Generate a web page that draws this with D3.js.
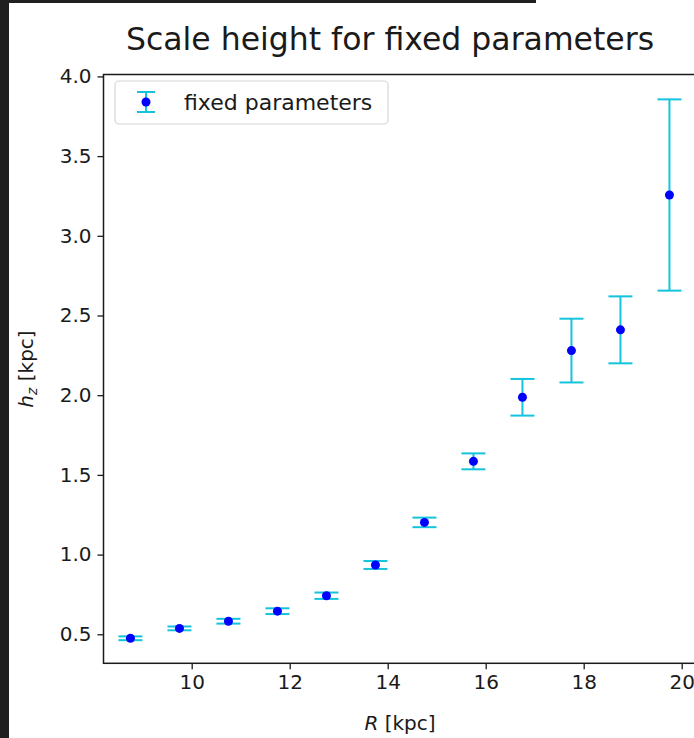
<!DOCTYPE html>
<html>
<head>
<meta charset="utf-8">
<script src="https://cdn.jsdelivr.net/npm/d3@7"></script>
<style>
  html, body { margin: 0; padding: 0; background: #ffffff; overflow: hidden; }
  svg { display: block; }
  text { font-family: "DejaVu Sans", sans-serif; fill: #1a1a1a; }
</style>
</head>
<body>
<svg id="chart" width="694" height="738"></svg>
<script>
// ---- data ----
const radii = [8.75, 9.75, 10.75, 11.75, 12.75, 13.75, 14.75, 15.75, 16.75, 17.75, 18.75, 19.75];
const scaleHeights = [0.475, 0.537, 0.582, 0.645, 0.742, 0.935, 1.202, 1.585, 1.987, 2.28, 2.41, 3.256];
const scaleHeightErrors = [0.012, 0.012, 0.015, 0.018, 0.02, 0.025, 0.03, 0.05, 0.115, 0.2, 0.21, 0.6];
const xTicks = [10, 12, 14, 16, 18, 20];
const yTicks = [0.5, 1.0, 1.5, 2.0, 2.5, 3.0, 3.5, 4.0];
const seriesName = "fixed parameters";
const titleText = "Scale height for fixed parameters";

const svg = d3.select("#chart");
const W = 694, H = 738;

// dark screenshot border
svg.append("rect").attr("x", 0).attr("y", 0).attr("width", W).attr("height", H).attr("fill", "#ffffff");
svg.append("rect").attr("x", 0).attr("y", 0).attr("width", 9).attr("height", H).attr("fill", "#1f1f1f");
svg.append("rect").attr("x", 0).attr("y", 0).attr("width", 536).attr("height", 3).attr("fill", "#1f1f1f");

const plot = { left: 103.5, right: 696.4, top: 74.5, bottom: 663.3 };

const x = d3.scaleLinear().domain([8.2, 20.3]).range([plot.left, plot.right]);
const y = d3.scaleLinear().domain([0.318, 4.012]).range([plot.bottom, plot.top]);

const cyan = "#14c3dc";
const blue = "#0000ff";

// axes
const xAxis = d3.axisBottom(x).tickValues(xTicks).tickFormat(d3.format("d")).tickSize(6).tickPadding(6);
const yAxis = d3.axisLeft(y).tickValues(yTicks).tickFormat(d3.format(".1f")).tickSize(6).tickPadding(6);

const gx = svg.append("g").attr("transform", `translate(0,${plot.bottom})`).call(xAxis);
const gy = svg.append("g").attr("transform", `translate(${plot.left},0)`).call(yAxis);
[gx, gy].forEach(g => {
  g.select(".domain").remove();
  g.selectAll(".tick line").attr("stroke", "#1a1a1a").attr("stroke-width", 1.3);
  g.selectAll(".tick text").attr("font-size", 20).attr("fill", "#1a1a1a")
    .style("font-family", "DejaVu Sans, sans-serif");
});

// spines
svg.append("rect")
  .attr("x", plot.left).attr("y", plot.top)
  .attr("width", plot.right - plot.left).attr("height", plot.bottom - plot.top)
  .attr("fill", "none").attr("stroke", "#1a1a1a").attr("stroke-width", 1.5);

// error bars
const cap = 12;
const eb = svg.append("g");
radii.forEach((r, i) => {
  const cx = x(r);
  const lo = y(scaleHeights[i] - scaleHeightErrors[i]);
  const hi = y(scaleHeights[i] + scaleHeightErrors[i]);
  eb.append("line").attr("x1", cx).attr("x2", cx).attr("y1", lo).attr("y2", hi)
    .attr("stroke", cyan).attr("stroke-width", 2);
  eb.append("line").attr("x1", cx - cap).attr("x2", cx + cap).attr("y1", lo).attr("y2", lo)
    .attr("stroke", cyan).attr("stroke-width", 2);
  eb.append("line").attr("x1", cx - cap).attr("x2", cx + cap).attr("y1", hi).attr("y2", hi)
    .attr("stroke", cyan).attr("stroke-width", 2);
});
svg.append("g").selectAll("circle").data(radii).join("circle")
  .attr("cx", d => x(d)).attr("cy", (d, i) => y(scaleHeights[i]))
  .attr("r", 4.5).attr("fill", blue);

// title
svg.append("text").attr("x", 390).attr("y", 50).attr("text-anchor", "middle")
  .attr("font-size", 31.5).text(titleText);

// axis labels
const xl = svg.append("text").attr("x", 400).attr("y", 730).attr("text-anchor", "middle").attr("font-size", 20);
xl.append("tspan").attr("font-style", "italic").text("R");
xl.append("tspan").text(" [kpc]");

const yl = svg.append("text").attr("transform", `translate(33,369) rotate(-90)`)
  .attr("text-anchor", "middle").attr("font-size", 20);
yl.append("tspan").attr("font-style", "italic").text("h");
yl.append("tspan").attr("font-style", "italic").attr("font-size", 14).attr("dy", 4).text("z");
yl.append("tspan").attr("dy", -4).text(" [kpc]");

// legend
const lg = svg.append("g");
lg.append("rect").attr("x", 115).attr("y", 81).attr("width", 273).attr("height", 43)
  .attr("rx", 4).attr("fill", "#ffffff").attr("fill-opacity", 0.8)
  .attr("stroke", "#d6d6d6").attr("stroke-width", 1.2);
const lx = 146, ly = 102;
lg.append("line").attr("x1", lx).attr("x2", lx).attr("y1", ly - 10).attr("y2", ly + 10).attr("stroke", cyan).attr("stroke-width", 2);
lg.append("line").attr("x1", lx - 9).attr("x2", lx + 9).attr("y1", ly - 10).attr("y2", ly - 10).attr("stroke", cyan).attr("stroke-width", 2);
lg.append("line").attr("x1", lx - 9).attr("x2", lx + 9).attr("y1", ly + 10).attr("y2", ly + 10).attr("stroke", cyan).attr("stroke-width", 2);
lg.append("circle").attr("cx", lx).attr("cy", ly).attr("r", 4.5).attr("fill", blue);
lg.append("text").attr("x", 184).attr("y", 110).attr("font-size", 22).text(seriesName);
</script>
</body>
</html>
